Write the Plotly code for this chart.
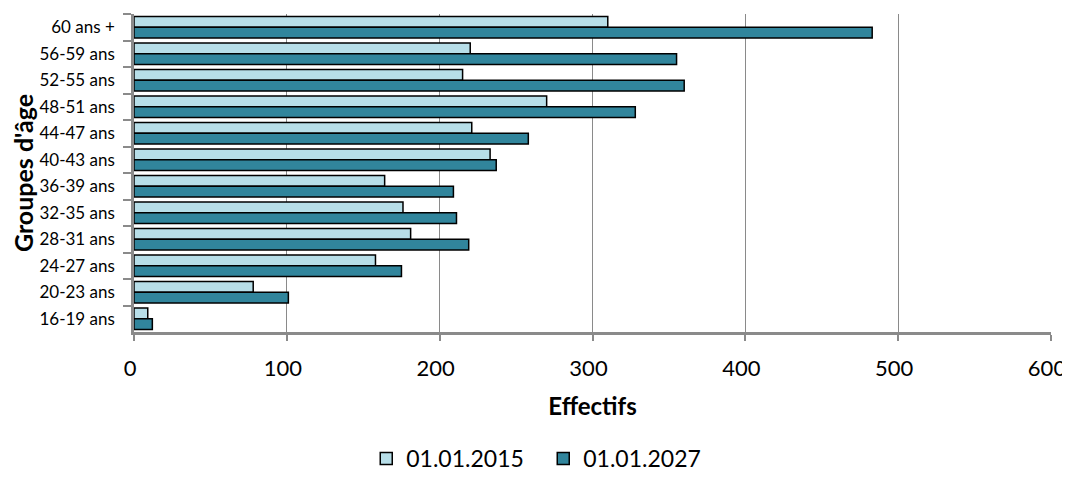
import plotly.graph_objects as go

categories = ["60 ans +", "56-59 ans", "52-55 ans", "48-51 ans", "44-47 ans", "40-43 ans",
              "36-39 ans", "32-35 ans", "28-31 ans", "24-27 ans", "20-23 ans", "16-19 ans"]
values_2015 = [310, 220, 215, 270, 221, 233, 164, 176, 181, 158, 78, 9]
values_2027 = [483, 355, 360, 328, 258, 237, 209, 211, 219, 175, 101, 12]
series_names = ["01.01.2015", "01.01.2027"]
x_ticks = [0, 100, 200, 300, 400, 500, 600]

FONT = "Lato, Open Sans, sans-serif"

fig = go.Figure()
fig.add_trace(go.Bar(y=categories, x=values_2015, orientation="h", name=series_names[0],
                     marker=dict(color="#B7DEE8", line=dict(color="black", width=1.5))))
fig.add_trace(go.Bar(y=categories, x=values_2027, orientation="h", name=series_names[1],
                     marker=dict(color="#31859C", line=dict(color="black", width=1.5))))

fig.update_layout(
    width=1062, height=472,
    margin=dict(l=126, r=19, t=6, b=148, autoexpand=False),
    paper_bgcolor="white", plot_bgcolor="white",
    barmode="group", bargap=0.19, bargroupgap=0,
    font=dict(family=FONT, color="black"),
    legend=dict(orientation="h", x=0.504, xanchor="center", xref="container",
                y=0.0, yanchor="bottom", yref="container",
                font=dict(size=23), traceorder="normal", itemwidth=30,
                entrywidth=132, entrywidthmode="pixels"),
    showlegend=True,
)
fig.update_xaxes(range=[0, 600], tickvals=x_ticks, showgrid=True, gridcolor="#8a8a8a", gridwidth=1,
                 showline=True, linecolor="#8a8a8a", linewidth=2.5, ticks="outside", ticklen=6,
                 tickcolor="#8a8a8a", tickwidth=1.5, tickfont=dict(size=22), zeroline=False,
                 automargin=False, ticklabelstandoff=9, ticklabelshift=-4,
                 ticklabeloverflow="allow",
                 title=dict(text="<b>Effectifs</b>", font=dict(size=24), standoff=19))
fig.update_yaxes(autorange="reversed", type="category", showgrid=False, showline=True,
                 linecolor="#8a8a8a", linewidth=2.5, ticks="outside", tickson="boundaries",
                 ticklen=8, tickcolor="#8a8a8a", tickwidth=1.5, tickfont=dict(size=17),
                 automargin=False, ticklabelstandoff=13,
                 title=dict(text="<b>Groupes d'âge</b>", font=dict(size=25), standoff=8))

fig.write_html("out.html")
